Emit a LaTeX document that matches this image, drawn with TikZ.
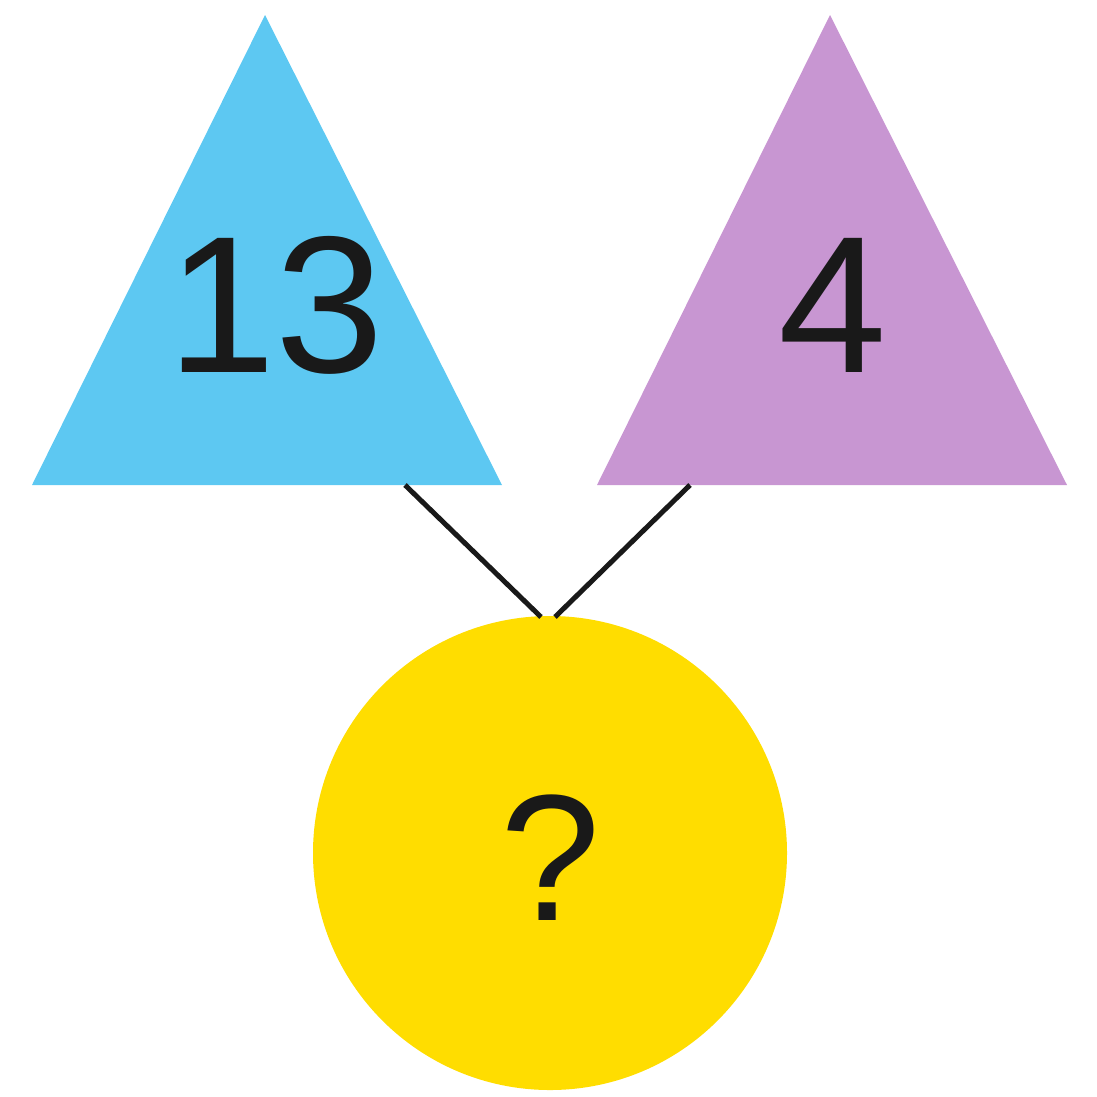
\documentclass[tikz,border=0pt]{standalone}
\usepackage{fontspec}
\setmainfont{Liberation Sans}
\definecolor{triblue}{RGB}{93,200,242}
\definecolor{tripurple}{RGB}{200,150,210}
\definecolor{discyellow}{RGB}{255,221,0}
\begin{document}
\begin{tikzpicture}[x=1pt,y=-1pt,
  bignum/.style={inner sep=0pt,anchor=base,text=black!90,font=\fontsize{195}{200}\selectfont},
  link/.style={line width=5pt,black!90}]
\useasboundingbox (0,0) rectangle (1097,1096);
\fill[triblue] (265,15) -- (502,485) -- (32,485) -- cycle;
\fill[tripurple] (830,15) -- (1067,485) -- (597,485) -- cycle;
\node[circle,fill=discyellow,minimum size=474pt,inner sep=0pt] (disc) at (550,853) {};
\node[bignum] (n13) at (276,372) {13};
\node[bignum] (n4) at (833,372) {4};
\node[inner sep=0pt,anchor=base,text=black!90,font=\fontsize{180}{190}\selectfont] (q) at (551,920) {?};
\coordinate (bl) at (405,485);
\coordinate (pl) at (690,485);
\coordinate (m1) at (541,617);
\coordinate (m2) at (555,617);
\draw[link] (bl) -- (m1);
\draw[link] (pl) -- (m2);
\end{tikzpicture}
\end{document}
